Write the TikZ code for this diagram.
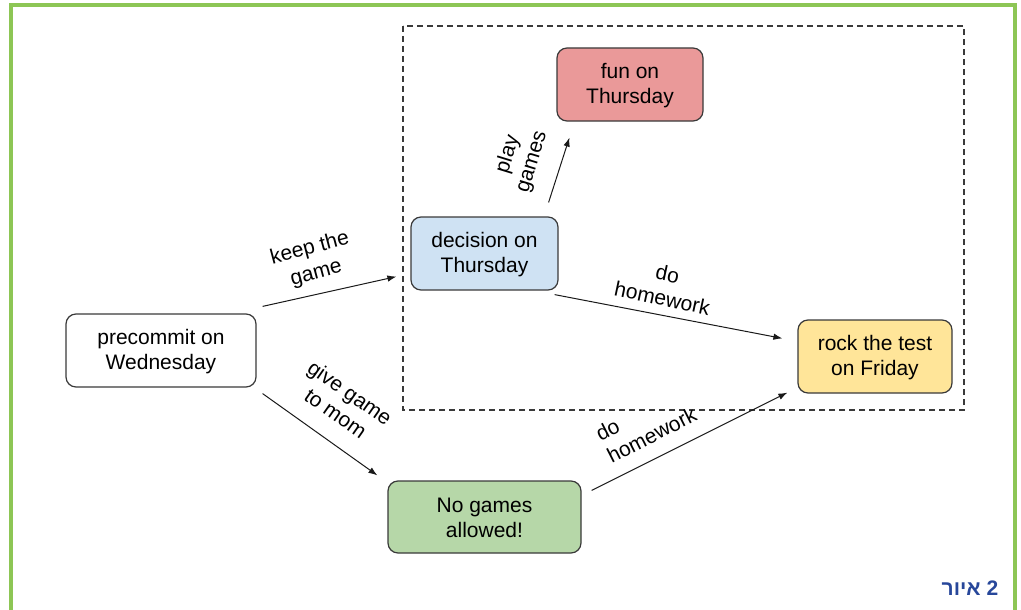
\documentclass[tikz,border=0pt]{standalone}
\usepackage{fontspec}
\setmainfont{Liberation Sans}
\newfontfamily\hebfont[Script=Hebrew]{Liberation Sans Bold}
\TeXXeTstate=1
\usepackage{tikz}
\usepackage{xcolor}
\usetikzlibrary{arrows.meta}
\definecolor{frame-green}{HTML}{8DC655}
\definecolor{box-line}{HTML}{3A3A3A}
\definecolor{fill-blue}{HTML}{CFE2F3}
\definecolor{fill-red}{HTML}{EA9999}
\definecolor{fill-yellow}{HTML}{FFE599}
\definecolor{fill-green}{HTML}{B6D7A8}
\definecolor{caption-blue}{HTML}{27479A}
\tikzset{
    day-box/.style = {draw=box-line, line width=1.2pt, rectangle, rounded corners=10pt, minimum height=73pt, inner sep=0pt, align=center, font=\fontsize{21}{25}\selectfont},
    choice-arrow/.style = {draw=black!90, line width=1pt, -{Latex[length=9pt,width=6.5pt]}},
    choice-label/.style = {inner sep=0pt, font=\fontsize{21}{25}\selectfont},
}

\begin{document}
\begin{tikzpicture}[x=1pt, y=-1pt]
\useasboundingbox (0,0) rectangle (1021,610);
\draw[frame-green, line width=3.5pt] (11,612) -- (11,5) -- (1015,5) -- (1015,612);
\draw[box-line, line width=1.3pt, dash pattern=on 6pt off 4pt] (403,26) rectangle (964,410);

\node[day-box, fill=white, minimum width=190pt] (pre) at (161,350.5) {\rule{0pt}{17pt}precommit on\\Wednesday};
\node[day-box, fill=fill-blue, minimum width=147pt] (dec) at (484.5,253.5) {\rule{0pt}{17pt}decision on\\Thursday};
\node[day-box, fill=fill-red, minimum width=146pt] (fun) at (630,84.5) {\rule{0pt}{17pt}fun on\\Thursday};
\node[day-box, fill=fill-yellow, minimum width=154pt] (rock) at (875,356.5) {\rule{0pt}{17pt}rock the test\\on Friday};
\node[day-box, fill=fill-green, minimum width=193pt, minimum height=72pt] (nog) at (484.5,517) {\rule{0pt}{17pt}No games\\allowed!};

\draw[choice-arrow] ([shift={(6,-7)}]pre.north east) -- ([shift={(-14,-14)}]dec.south west);
\draw[choice-arrow] ([shift={(6,6)}]pre.south east) -- ([shift={(-10,-5)}]nog.north west);
\draw[choice-arrow] ([shift={(-10,-14)}]dec.north east) -- ([shift={(13,16)}]fun.south west);
\draw[choice-arrow] ([shift={(-4,4)}]dec.south east) -- ([shift={(-15,19)}]rock.north west);
\draw[choice-arrow] ([shift={(10,10)}]nog.north east) -- ([shift={(-10,-1)}]rock.south west);

\node[choice-label, align=center, rotate=15] (keep) at (313,261) {keep the\\game};
\node[choice-label, align=center, rotate=73] (play) at (520,158) {play\\games};
\node[choice-label, align=center, rotate=-12] (hw-up) at (665,286) {do\\homework};
\node[choice-label, align=center, rotate=-35] (give) at (343,403) {give game\\to mom};
\node[choice-label, align=left, rotate=27] (hw-low) at (646,424) {do\\homework};

\node[inner sep=0pt, text=caption-blue, font=\fontsize{21}{24}\selectfont] (caption) at (970,588) {\hebfont\beginR איור\endR\ 2};
\end{tikzpicture}
\end{document}
